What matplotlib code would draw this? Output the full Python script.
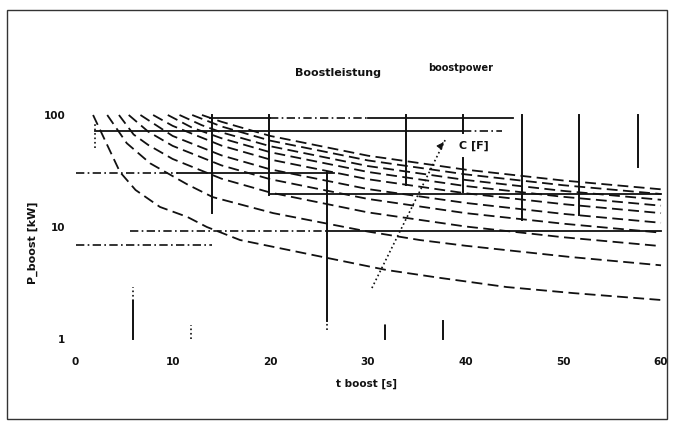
import matplotlib
matplotlib.use('Agg')
import matplotlib.pyplot as plt
from matplotlib.patches import Rectangle

# family of boost power curves, P_boost [kW] over t_boost [s]
curve_t = [
    [1.85, 4.6, 6.2, 8.7, 11.5, 13.5, 16.9, 25.8, 31.9, 37.4, 44.2, 51, 60],
    [3.3, 5.3, 7.7, 11.5, 14.1, 20.3, 30, 35.3, 40, 50.7, 60],
    [4.5, 6, 7.5, 10, 15, 20, 30, 40, 50, 60],
    [5.5, 7.5, 10, 15, 20, 30, 40, 50, 60],
    [6.7, 10, 15, 20, 30, 40, 50, 60],
    [8, 10, 15, 20, 30, 40, 50, 60],
    [9.5, 12, 15, 20, 30, 40, 50, 60],
    [10.7, 13, 15, 20, 30, 40, 50, 60],
    [12, 15, 20, 30, 40, 50, 60],
    [13, 15, 20, 30, 40, 50, 60],
]
curve_p = [
    [100, 31, 21.4, 15.1, 12.3, 10, 7.65, 5.3, 4.13, 3.51, 2.91, 2.57, 2.23],
    [100, 56, 37, 24, 18.5, 13.3, 9.1, 7.65, 6.8, 5.4, 4.55],
    [100, 67, 54, 40.5, 27, 20.3, 13.5, 10.1, 8.1, 6.75],
    [100, 71, 53, 35.5, 26.7, 17.8, 13.3, 10.7, 8.9],
    [100, 65, 43.6, 32.7, 21.8, 16.4, 13.1, 10.9],
    [100, 80, 53.3, 40, 26.7, 20, 16, 13.3],
    [100, 77, 62, 46.5, 31, 23.2, 18.6, 15.5],
    [100, 81, 70, 52.6, 35, 26.3, 21, 17.5],
    [100, 79, 59, 39.3, 29.5, 23.6, 19.7],
    [100, 87, 65, 43.3, 32.5, 26, 21.7],
]

# horizontal reference lines: P level, t from, t to
hsolid_p = [93.4, 93.4, 72.4, 30.5, 19.7, 9.2]
hsolid_t0 = [13.8, 30.0, 2.0, 10.5, 19.9, 25.8]
hsolid_t1 = [20.0, 44.8, 39.7, 26.5, 60, 60]
hbroken_p = [93.4, 72.4, 30.5, 9.2, 6.9]
hbroken_t0 = [20.0, 39.7, 0.1, 5.6, 0.1]
hbroken_t1 = [30.0, 43.7, 10.5, 25.8, 14.0]

# vertical marker lines: t position, P low, P high
vsolid_t = [14.0, 19.9, 25.8, 33.9, 39.7, 39.7, 45.8, 51.6, 57.6, 5.9, 37.7, 31.7]
vsolid_lo = [13.3, 19.3, 1.45, 23.7, 69, 20.5, 11.5, 12.8, 34.3, 1.0, 1.0, 1.0]
vsolid_hi = [100, 100, 30.9, 100, 100, 41.3, 100, 100, 100, 2.2, 1.45, 1.3]
vdot_t = [2.0, 25.8, 5.9, 11.9, 31.7]
vdot_lo = [50.8, 1.2, 2.2, 1.0, 1.3]
vdot_hi = [86.6, 1.45, 2.9, 1.34, 1.42]

# capacitance arrow
arrow_t = [30.4, 37.9]
arrow_p = [2.85, 59.8]

x_ticks = [0, 10, 20, 30, 40, 50, 60]
y_ticks = [1, 10, 100]
y_ticklabels = ['1', '10', '100']

W, H = 679, 428
fig = plt.figure(figsize=(W / 100, H / 100), dpi=100)
ax = fig.add_axes([75 / W, (H - 339) / H, (661 - 75) / W, (339 - 115) / H])
ax.set_yscale('log')
ax.set_xlim(0, 60)
ax.set_ylim(1, 100)

ink = '#111111'
for t, p in zip(curve_t, curve_p):
    ax.plot(t, p, color=ink, lw=1.3, ls=(0, (6, 3)), clip_on=False)

for p, a, b in zip(hsolid_p, hsolid_t0, hsolid_t1):
    ax.plot([a, b], [p, p], color=ink, lw=1.3, clip_on=False)
for p, a, b in zip(hbroken_p, hbroken_t0, hbroken_t1):
    ax.plot([a, b], [p, p], color=ink, lw=1.2, ls=(0, (5, 2, 1, 2)), clip_on=False)

for t, lo, hi in zip(vsolid_t, vsolid_lo, vsolid_hi):
    ax.plot([t, t], [lo, hi], color=ink, lw=1.4, clip_on=False)
for t, lo, hi in zip(vdot_t, vdot_lo, vdot_hi):
    ax.plot([t, t], [lo, hi], color=ink, lw=1.2, ls=':', clip_on=False)

ax.plot(arrow_t, arrow_p, color=ink, lw=1.2, ls=':')
ax.annotate('', xy=(arrow_t[1], arrow_p[1]), xytext=(arrow_t[1] - 0.4, arrow_p[1] * 0.9),
            arrowprops=dict(arrowstyle='-|>', color=ink, lw=0.8, mutation_scale=10))
ax.text(39.3, 53, 'C [F]', fontsize=8, fontweight='bold', color=ink, va='center')

for s in ax.spines.values():
    s.set_visible(False)
ax.set_xticks(x_ticks)
ax.set_xticklabels([str(v) for v in x_ticks])
ax.set_yticks(y_ticks)
ax.set_yticklabels(y_ticklabels)
ax.yaxis.set_minor_locator(matplotlib.ticker.NullLocator())
ax.tick_params(axis='x', length=0, pad=13, labelsize=7.5, colors=ink)
ax.tick_params(axis='y', length=0, pad=7, labelsize=7.5, colors=ink)
for lab in ax.get_xticklabels() + ax.get_yticklabels():
    lab.set_fontweight('bold')

fig.text(338 / W, 1 - 73 / H, 'Boostleistung', fontsize=8, fontweight='bold', ha='center', va='center', color=ink)
fig.text(461 / W, 1 - 68 / H, 'boostpower', fontsize=7, fontweight='bold', ha='center', va='center', color=ink)
fig.text(367 / W, 1 - 384 / H, 't boost [s]', fontsize=7.5, fontweight='bold', ha='center', va='center', color=ink)
fig.text(33 / W, 1 - 243 / H, 'P_boost [kW]', fontsize=8, fontweight='bold', rotation=90,
         ha='center', va='center', color=ink)

fig.add_artist(Rectangle((7 / W, 1 - 419 / H), 660 / W, 409 / H, transform=fig.transFigure,
                         fill=False, lw=1.0, ec='#333333'))

fig.savefig('out.png', dpi=100)
